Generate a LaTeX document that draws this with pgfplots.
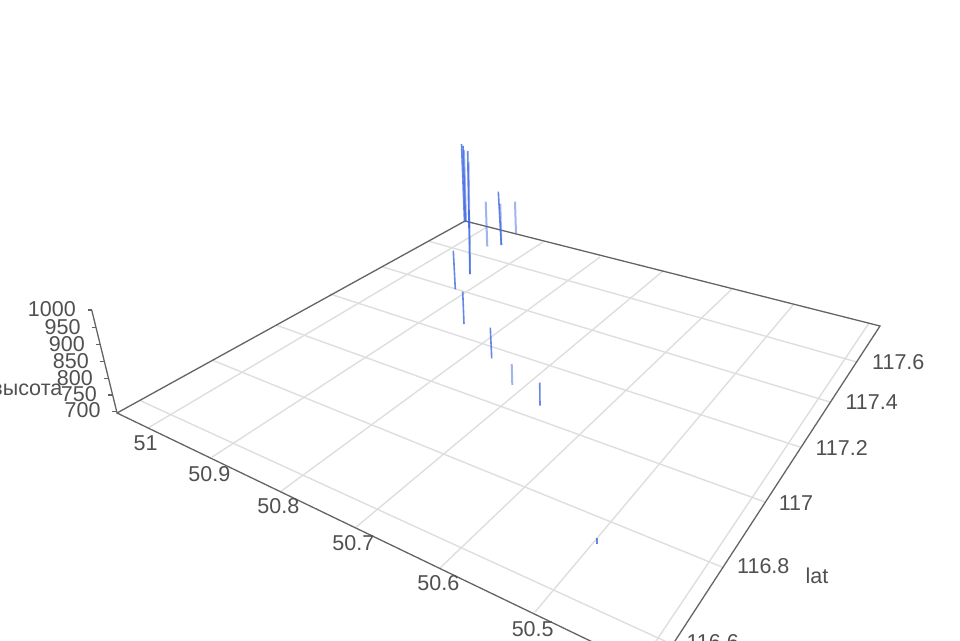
\documentclass[border=0pt]{standalone}
\usepackage{fontspec}
\setmainfont{Liberation Sans}
\usepackage{pgfplots}
\pgfplotsset{compat=1.18}
\definecolor{gridc}{RGB}{222,222,222}
\definecolor{axc}{RGB}{100,100,100}
\definecolor{txt}{RGB}{80,80,80}
\definecolor{bl}{RGB}{65,105,225}
\tikzset{
  grd/.style={gridc, line width=1.4pt},
  axl/.style={axc, line width=1.3pt},
  v/.style={bl, line width=1.6pt, opacity=0.8},
  vl/.style={bl, line width=2pt, opacity=0.5},
  tl/.style={font=\fontsize{21.5}{25}\selectfont, text=txt, inner sep=0pt},
}
\begin{document}
\begin{tikzpicture}
\useasboundingbox (0,0) rectangle (960pt,640pt);
\clip (0,0) rectangle (960pt,640pt);
\begin{axis}[
  at={(0,0)}, anchor=south west,
  scale only axis, width=960pt, height=640pt,
  xmin=0, xmax=960, ymin=0, ymax=640, y dir=reverse,
  hide axis, clip=true,
  every axis plot/.append style={no markers},
]
% grid: constant x-value lines
\addplot[grd] coordinates {(148,428) (487,227)};
\addplot[grd] coordinates {(211.7,457.3) (543,242)};
\addplot[grd] coordinates {(280,492) (600,257)};
\addplot[grd] coordinates {(355,528) (663,271)};
\addplot[grd] coordinates {(440,568) (733,288)};
\addplot[grd] coordinates {(535,612) (793,305)};
\addplot[grd] coordinates {(640,665) (869,323)};
% grid: constant lat lines
\addplot[grd] coordinates {(140,400.5) (680,648)};
\addplot[grd] coordinates {(212,360) (722,567)};
\addplot[grd] coordinates {(276,325) (765,502)};
\addplot[grd] coordinates {(330,294) (800,447)};
\addplot[grd] coordinates {(383,267) (830,402)};
\addplot[grd] coordinates {(428,241) (857,362)};
% axis frame
\addplot[axl] coordinates {(117,413) (465,221) (880,326) (654.8,672)};
\addplot[axl] coordinates {(117,413) (654.8,672)};
% height axis and ticks
\addplot[axl] coordinates {(117.3,414) (91.7,310)};
\addplot[axl] coordinates {(87.5,310) (91.7,310)};
\addplot[axl] coordinates {(91.5,327.7) (96,327.7)};
\addplot[axl] coordinates {(95.5,344.3) (100,344.3)};
\addplot[axl] coordinates {(99.5,361.7) (104,361.7)};
\addplot[axl] coordinates {(103.5,378.3) (108,378.3)};
\addplot[axl] coordinates {(107.5,395) (112,395)};
\addplot[axl] coordinates {(112,411.7) (116.5,411.7)};
% vertical data lines
\addplot[v]  coordinates {(461.5,144) (464.5,222)};
\addplot[v]  coordinates {(463,146) (465.5,222)};
\addplot[vl] coordinates {(464,150) (466,222)};
\addplot[v]  coordinates {(467.7,151) (469,228)};
\addplot[vl] coordinates {(468.5,162) (470,274)};
\addplot[v]  coordinates {(469,210) (470,274)};
\addplot[vl] coordinates {(485.7,201.7) (487.3,246.7)};
\addplot[v]  coordinates {(498.3,191.7) (501.3,245)};
\addplot[vl] coordinates {(500.3,204) (501.3,245)};
\addplot[vl] coordinates {(515,201.7) (516,233.3)};
\addplot[v]  coordinates {(453.3,250.7) (455.3,289.3)};
\addplot[v]  coordinates {(462.7,291.7) (464,324)};
\addplot[v]  coordinates {(490.3,327.7) (491.7,358.3)};
\addplot[vl] coordinates {(511.7,364) (512.3,385)};
\addplot[v]  coordinates {(539.7,382.7) (540,405.7)};
\addplot[v]  coordinates {(596.7,538.3) (596.7,544)};
% labels
\node[tl, anchor=east] at (axis cs:76,309.5) {1000};
\node[tl, anchor=east] at (axis cs:80.7,326.7) {950};
\node[tl, anchor=east] at (axis cs:85,344) {900};
\node[tl, anchor=east] at (axis cs:89,361) {850};
\node[tl, anchor=east] at (axis cs:93,378) {800};
\node[tl, anchor=east] at (axis cs:97,394) {750};
\node[tl, anchor=east] at (axis cs:100.7,410) {700};
\node[tl, anchor=east] at (axis cs:62.5,390) {высота};
\node[tl] at (axis cs:145.7,443.3) {51};
\node[tl] at (axis cs:209.3,474) {50.9};
\node[tl] at (axis cs:278.3,506) {50.8};
\node[tl] at (axis cs:353.3,542.7) {50.7};
\node[tl] at (axis cs:438.3,582.7) {50.6};
\node[tl] at (axis cs:532.7,629.3) {50.5};
\node[tl] at (axis cs:898.3,362.3) {117.6};
\node[tl] at (axis cs:871.7,401.7) {117.4};
\node[tl] at (axis cs:841.7,447.7) {117.2};
\node[tl] at (axis cs:796,502.7) {117};
\node[tl] at (axis cs:763.3,566) {116.8};
\node[tl] at (axis cs:712.7,642) {116.6};
\node[tl] at (axis cs:817,576) {lat};
\end{axis}
\end{tikzpicture}
\end{document}
